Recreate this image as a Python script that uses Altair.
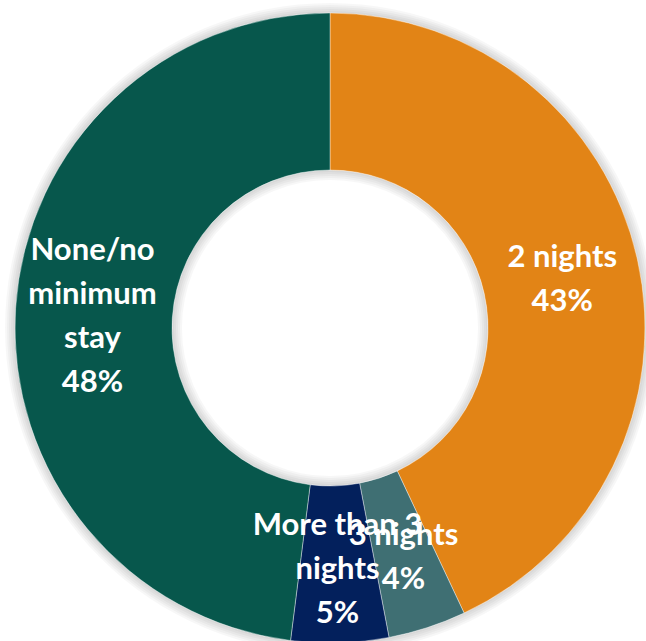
import math
import altair as alt
import pandas as pd

categories = ["2 nights", "3 nights", "More than 3 nights", "None/no minimum stay"]
values = [43, 4, 5, 48]
labels = ["2 nights\n43%", "3 nights\n4%", "More than 3\nnights\n5%", "None/no\nminimum\nstay\n48%"]
colors = ["#E28416", "#3F6F73", "#03205C", "#07574C"]

LINE_H = 44
df = pd.DataFrame({
    "cat": categories, "value": values, "label": labels,
    "order": list(range(len(categories))),
    "nlines": [l.count("\n") + 1 for l in labels],
})
one = pd.DataFrame({"k": [0]})

base = alt.Chart(df)

TAU = 2 * math.pi
shadow_outer = [
    alt.Chart(one).mark_arc(theta=0, theta2=TAU, radius=315 + w, radius2=315, opacity=0.03)
    .encode(color=alt.value("#000000"))
    for w in (2, 4, 6, 8, 10)
]
shadow_inner = [
    alt.Chart(one).mark_arc(theta=0, theta2=TAU, radius=158, radius2=158 - w, opacity=0.03)
    .encode(color=alt.value("#000000"))
    for w in (2, 4, 6, 8, 10)
]

arcs = base.mark_arc(radius=315, radius2=158, stroke="#ffffff", strokeWidth=0.4).encode(
    theta=alt.Theta("value:Q", stack=True),
    color=alt.Color("cat:N", scale=alt.Scale(domain=categories, range=colors), legend=None),
    order=alt.Order("order:Q"),
)

texts = []
for n in sorted(set(df["nlines"])):
    texts.append(
        base.mark_text(
            radius=238, font="Lato", fontWeight="bold", fontSize=31, color="#ffffff",
            lineBreak="\n", lineHeight=LINE_H, align="center", baseline="middle",
            dy=-(n - 1) * LINE_H / 2 + 4,
        ).encode(
            theta=alt.Theta("value:Q", stack=True),
            text="label:N",
            order=alt.Order("order:Q"),
            opacity=alt.condition(f"datum.nlines == {n}", alt.value(1), alt.value(0)),
        )
    )

chart = alt.layer(*shadow_outer, *shadow_inner, arcs, *texts).properties(
    width=632, height=626,
    padding={"left": 14, "top": 15, "right": 0, "bottom": 0},
    autosize=alt.AutoSizeParams(type="none"),
).configure_view(stroke=None).configure(background="#ffffff")

chart.save("out.html", embed_options={"renderer": "svg", "actions": False})
